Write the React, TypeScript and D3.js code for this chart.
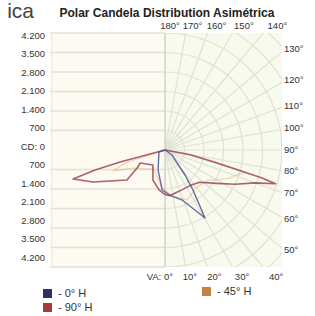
import * as d3 from "d3";

// candela ticks on the left scale
const cdTicks = [700, 1400, 2100, 2800, 3500, 4200];
const cdLabels = ["700", "1.400", "2.100", "2.800", "3.500", "4.200"];

// vertical angles (0 = straight down, 90 = horizontal right)
const rightAngles = [130, 120, 110, 100, 90, 80, 70, 60, 50];
const topAngles = [180, 170, 160, 150, 140];
const bottomAngles = [0, 10, 20, 30, 40];
const gridAngles = d3.range(0, 181, 10);

// [vertical angle, candela] - negative angles are on the left side
const curve90H: [number, number][] = [
  [-76, 0], [-75, 1670], [-74, 2610], [-72.5, 3460], [-66, 2830], [-51.7, 1740],
  [-57.8, 1150], [-62.5, 1010], [-39, 690], [-22, 1160], [-8.5, 1450], [0, 1600],
  [6, 1650], [20, 1560], [35, 1560], [47, 1700], [57, 2200], [64, 2800],
  [70, 3450], [73, 4150], [74, 3600], [76, 1950], [79, 950], [85, 0],
];
const curve0H: [number, number][] = [
  [-80, 0], [-72, 230], [-19, 760], [-4, 1440], [6, 1630], [19, 1900],
  [30.5, 2830], [35, 1750], [38.7, 1150], [54.5, 310], [70, 0],
];
const curve45H: [number, number][] = [
  [-80, 0], [-72, 1500], [-68, 2000], [-60, 1300], [-30, 800], [-5, 1350],
  [10, 1700], [24, 1960], [40, 1750], [55, 1900], [66, 2500], [74.6, 2980],
  [77, 1800], [82, 600], [88, 0],
];

const legend = [
  { label: "- 0° H", color: "#2b3168", x: 43, y: 289 },
  { label: "- 90° H", color: "#a63a3c", x: 43, y: 303 },
  { label: "- 45° H", color: "#c4813f", x: 202, y: 287 },
];

const CX = 165;
const CY = 150;
const font = "'Liberation Sans', Arial, sans-serif";
const rad = (a: number) => (a * Math.PI) / 180;

export default function App() {
  const r = d3.scaleLinear().domain([0, 4200]).range([0, 117]);
  const labelR = d3.scaleLinear().domain([0, 4200]).range([0, 111]);
  const box = { x0: 50, x1: 282, y0: CY - r(4200), y1: CY + r(4200) };

  const line = d3
    .lineRadial<[number, number]>()
    .angle((d) => Math.PI - rad(d[0]))
    .radius((d) => r(d[1]))
    .curve(d3.curveLinearClosed);

  const arcs = d3.range(1, 10).map((k) => r(k * 700));

  return (
    <svg
      width={315}
      height={316}
      style={{ position: "absolute", left: 0, top: 0, fontFamily: font }}
    >
      <defs>
        <clipPath id="right">
          <rect x={CX} y={box.y0} width={box.x1 - CX} height={box.y1 - box.y0} />
        </clipPath>
      </defs>
      <rect x={0} y={0} width={315} height={316} fill="#fff" />
      <text x={34} y={18} fontSize={21} fill="#444" textAnchor="end">
        ica
      </text>
      <text x={167} y={17} fontSize={12} fontWeight="bold" fill="#222" textAnchor="middle">
        Polar Candela Distribution Asimétrica
      </text>

      {/* plot background */}
      <rect x={box.x0} y={box.y0} width={CX - box.x0} height={box.y1 - box.y0} fill="#fdfaf1" />
      <rect x={CX} y={box.y0} width={box.x1 - CX} height={box.y1 - box.y0} fill="#f9faee" />

      {/* left: horizontal candela lines */}
      {cdTicks.map((c) =>
        [-1, 1].map((s) => (
          <line
            key={`h${c}${s}`}
            x1={box.x0}
            x2={CX}
            y1={CY + s * r(c)}
            y2={CY + s * r(c)}
            stroke="#e2e0d8"
            strokeWidth={1.5}
          />
        ))
      )}
      <line x1={52} x2={52} y1={box.y0} y2={box.y1} stroke="#ebe9e0" strokeWidth={1} />

      {/* right: polar grid */}
      <g clipPath="url(#right)">
        {arcs.map((a, i) => (
          <circle key={i} cx={CX} cy={CY} r={a} fill="none" stroke="#dfe2d2" strokeWidth={1.2} />
        ))}
        {gridAngles.map((a) => (
          <line
            key={a}
            x1={CX}
            y1={CY}
            x2={CX + 200 * Math.sin(rad(a))}
            y2={CY + 200 * Math.cos(rad(a))}
            stroke="#dfe2d2"
            strokeWidth={1.2}
          />
        ))}
      </g>
      <line x1={CX} x2={CX} y1={box.y0} y2={box.y1} stroke="#d4d3ca" strokeWidth={1.5} />

      {/* curves */}
      <g transform={`translate(${CX},${CY})`} fill="none" strokeLinejoin="round">
        <path d={line(curve45H) ?? ""} stroke="#d8a458" strokeOpacity={0.4} strokeWidth={1.3} />
        <path d={line(curve90H) ?? ""} stroke="#9c4658" strokeOpacity={0.85} strokeWidth={1.6} />
        <path d={line(curve0H) ?? ""} stroke="#4d5190" strokeOpacity={0.85} strokeWidth={1.4} />
      </g>

      {/* left axis labels */}
      <g fontSize={9.5} fill="#333" textAnchor="end">
        <text x={45} y={CY - 3} dominantBaseline="middle">
          CD: 0
        </text>
        {cdTicks.map((c, i) =>
          [-1, 1].map((s) => (
            <text key={`l${c}${s}`} x={45} y={CY - 3 + s * labelR(c)} dominantBaseline="middle">
              {cdLabels[i]}
            </text>
          ))
        )}
      </g>

      {/* angle labels */}
      <g fontSize={9.5} fill="#333">
        {rightAngles.map((a) => (
          <text
            key={`r${a}`}
            x={284}
            y={CY + 120 * Math.tan(rad(90 - a))}
            dominantBaseline="middle"
          >
            {a}°
          </text>
        ))}
        {topAngles.map((a) => (
          <text
            key={`t${a}`}
            x={CX + 5 + 128 * Math.tan(rad(180 - a))}
            y={26}
            textAnchor="middle"
            dominantBaseline="middle"
          >
            {a}°
          </text>
        ))}
        {bottomAngles.map((a) => (
          <text
            key={`b${a}`}
            x={a === 0 ? CX + 8 : CX + 2 + 130 * Math.tan(rad(a))}
            y={277}
            textAnchor={a === 0 ? "end" : "middle"}
            dominantBaseline="middle"
          >
            {a === 0 ? `VA: ${a}°` : `${a}°`}
          </text>
        ))}
      </g>

      {/* legend */}
      {legend.map((l) => (
        <g key={l.label}>
          <rect x={l.x} y={l.y} width={9} height={9} fill={l.color} />
          <text x={l.x + 15} y={l.y + 5} fontSize={11} fill="#333" dominantBaseline="middle">
            {l.label}
          </text>
        </g>
      ))}
    </svg>
  );
}
